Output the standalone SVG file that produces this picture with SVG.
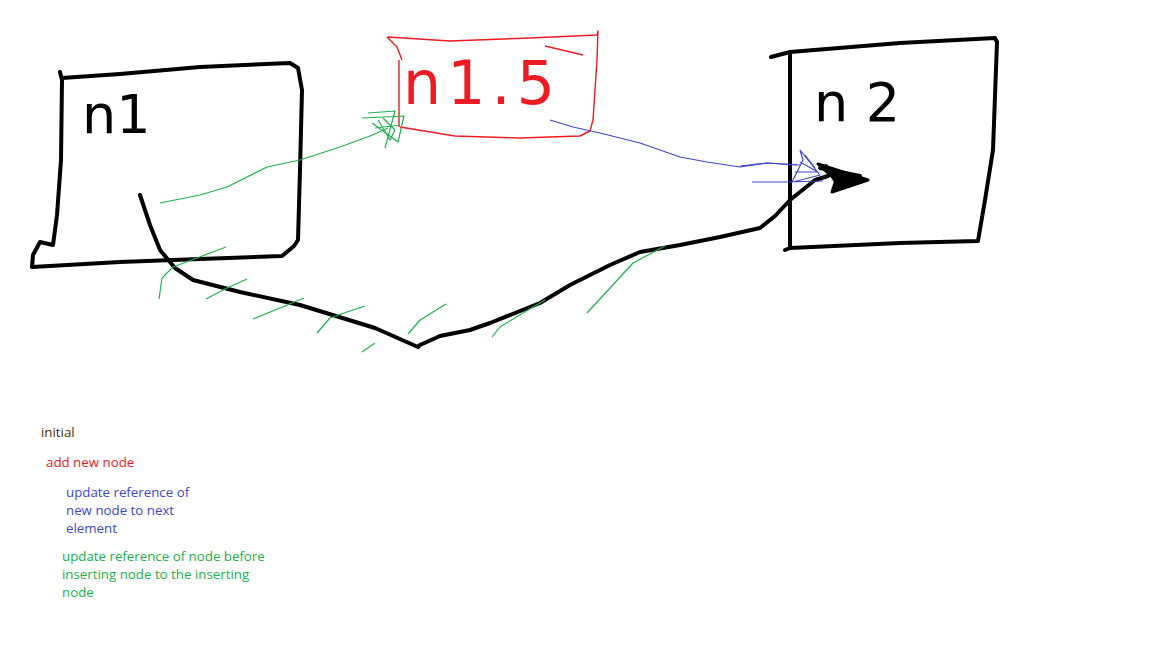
<svg xmlns="http://www.w3.org/2000/svg" width="1152" height="648" viewBox="0 0 1152 648">
<style>
.blk{fill:none;stroke:#000;stroke-width:4;stroke-linecap:round;stroke-linejoin:round}
.red{fill:none;stroke:#ed1c24;stroke-width:1.4;stroke-linejoin:round}
.grn{fill:none;stroke:#22b14c;stroke-width:1.2;stroke-linejoin:round}
.blu{fill:none;stroke:#3f48cc;stroke-width:1.2;stroke-linejoin:round}
.hand{font-family:"DejaVu Sans",sans-serif}
.leg{font-family:"Open Sans","Noto Sans",sans-serif;font-size:13.3px}
</style>
<rect width="1152" height="648" fill="#fff"/>
<g id="n1">
<path class="blk" d="M60,72 L62,80 L61,160 L57,215 L53,245 L40,242 L33,255 L32,267 L120,262 L200,259 L282,256 L294,246 L298,240 L300,170 L302,90 L298,68 L290,63 L200,67 L120,74 L62,78"/>
<text class="hand" x="82" y="133" font-size="54" fill="#000">n1</text>
</g>
<g id="n1_5">
<path class="red" d="M387,37 L397,47 L402,60 M399,60 L399,127 M388,37 L450,41 L530,38 L597,35 L598,31 L597,60 L593,120 L590,131 L580,136 L520,138 L455,136 L400,127 M545,46 L583,55"/>
<text class="hand" x="403" y="104" font-size="60" fill="#ed1c24" textLength="152" lengthAdjust="spacing">n1.5</text>
</g>
<g id="n2">
<path class="blk" d="M771,57 L790,52 L900,43 L995,38 L997,42 L993,150 L985,200 L978,241 L900,243 L790,248 L785,250 M790,52 L790,248"/>
<text class="hand" x="814" y="121" font-size="54" fill="#000" textLength="86" lengthAdjust="spacing">n2</text>
</g>
<g id="connectors">
<path class="blk" d="M140,195 L150,225 L160,250 L175,268 L193,280 L240,292 L300,305 L375,328 L418,347 L420,345 L440,336 L470,330 L490,323 L540,303 L570,285 L610,265 L640,252 L680,245 L720,237 L760,228 L775,216 L790,200 L815,180 L828,176"/>
<path d="M818,164 L868,180 L832,192 L836,180 Z" fill="#000" stroke="#000" stroke-width="3" stroke-linejoin="round"/>
<path class="blk" d="M820,168 L860,176 M826,166 L840,188"/>
<path class="grn" d="M160,203 L200,195 L227,187 L267,167 L300,160 L340,147 L370,136 L388,128"/>
<path class="grn" d="M362,118 L404,116 L398,142 L372,123 M368,113 L395,111 L385,148 M375,128 L400,125 M378,120 L390,140 L395,130 L383,118"/>
<path class="grn" d="M159,299 L162,278 L173,267 L197,258 L226,247 M206,299 L227,288 L247,279 M253,319 L280,308 L304,298 M317,333 L330,318 L347,312 L365,306 M362,352 L375,343 M408,334 L420,320 L446,304 M492,337 L500,327 L523,313 L545,300 M587,313 L610,288 L633,263 L665,246"/>
<path class="blu" d="M550,120 L573,127 L600,133 L640,143 L680,157 L707,162 L740,167 L767,163 L800,165"/>
<path class="blu" d="M740,166 L767,163 L797,165 M752,182 L787,182 L823,181 M800,150 L803,160 L792,182 M800,150 L820,175 L793,182 M805,155 L815,168 M795,172 L818,172 L800,162"/>
</g>
<g id="legend">
<text class="leg" x="41" y="437" fill="#4a2c00">initial</text>
<text class="leg" x="46" y="467" fill="#ed1c24">add new node</text>
<text class="leg" fill="#3f48cc"><tspan x="66" y="497">update reference of</tspan><tspan x="66" y="515">new node to next</tspan><tspan x="66" y="533">element</tspan></text>
<text class="leg" fill="#22b14c"><tspan x="62" y="561">update reference of node before</tspan><tspan x="62" y="579">inserting node to the inserting</tspan><tspan x="62" y="597">node</tspan></text>
</g>
</svg>
